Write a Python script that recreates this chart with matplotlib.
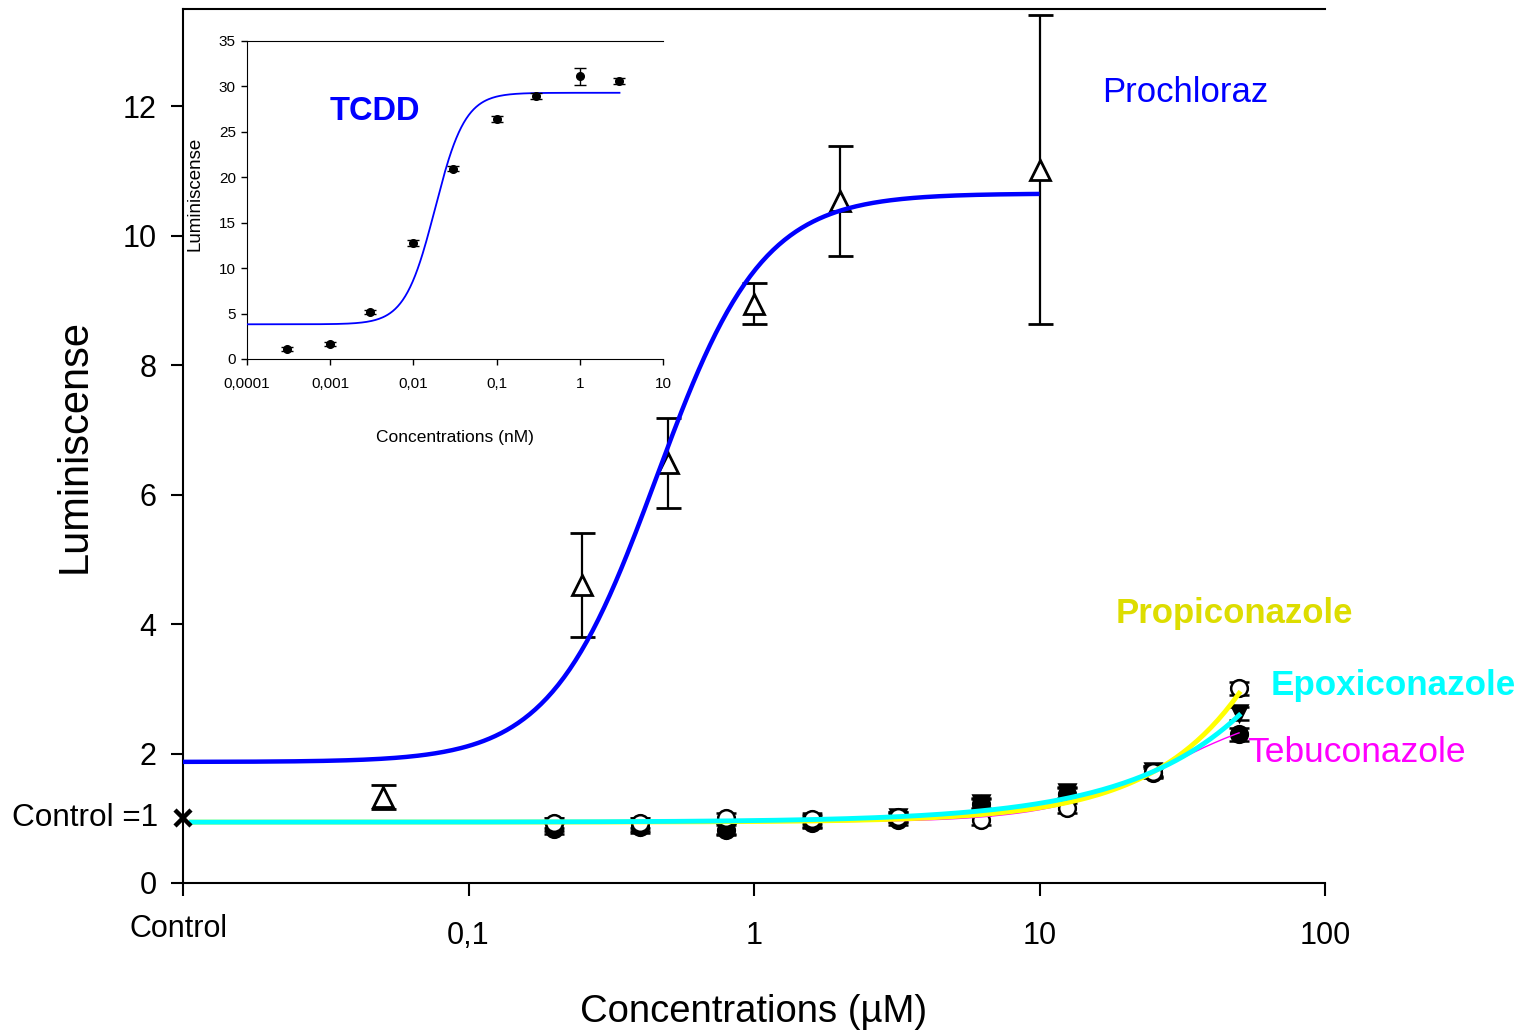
import numpy as np
import matplotlib
matplotlib.use('Agg')
import matplotlib.pyplot as plt
from matplotlib.transforms import ScaledTranslation

plt.rcParams['font.family'] = ['Liberation Sans', 'DejaVu Sans']

# ---------------- data ----------------
control_x = 0.01
control_y = 1.0

prochloraz_conc = [0.05, 0.25, 0.5, 1, 2, 10]
prochloraz_mean = [1.33, 4.60, 6.49, 8.95, 10.53, 11.02]
prochloraz_err = [0.18, 0.80, 0.70, 0.32, 0.85, 2.39]
# fitted Hill curve parameters: bottom, top, EC50, Hill slope, x range
prochloraz_fit = [1.87, 10.65, 0.455, 2.34, 0.01, 10]

azole_conc = [0.2, 0.4, 0.8, 1.6, 3.2, 6.25, 12.5, 25, 50]
propiconazole_mean = [0.93, 0.93, 1.00, 0.99, 1.02, 0.97, 1.16, 1.72, 3.01]
epoxiconazole_mean = [0.88, 0.88, 0.84, 0.95, 1.02, 1.24, 1.40, 1.73, 2.62]
tebuconazole_mean = [0.84, 0.86, 0.82, 0.93, 0.98, 1.22, 1.38, 1.70, 2.30]
azole_err = [0.08, 0.08, 0.08, 0.08, 0.08, 0.08, 0.08, 0.08, 0.10]
# fitted curves: baseline, amplitude at ref conc, ref conc, exponent
propiconazole_fit = [0.94, 1.99, 50, 1.36]
epoxiconazole_fit = [0.94, 1.65, 50, 1.08]
# Hill fit: bottom, top, EC50, slope
tebuconazole_fit = [0.94, 2.796, 29.4, 2.0]

tcdd_conc = [0.0003, 0.001, 0.003, 0.01, 0.03, 0.1, 0.3, 1, 3]
tcdd_mean = [1.1, 1.65, 5.2, 12.8, 20.95, 26.4, 28.95, 31.1, 30.6]
tcdd_err = [0.2, 0.2, 0.2, 0.35, 0.3, 0.3, 0.3, 0.96, 0.35]
tcdd_fit = [3.82, 29.3, 0.0182, 2.4, 1e-4, 3]

main_xticks = [0.01, 0.1, 1, 10, 100]
main_xticklabels = ['Control', '0,1', '1', '10', '100']
main_yticks = [0, 2, 4, 6, 8, 10, 12]
inset_xticks = [1e-4, 1e-3, 1e-2, 1e-1, 1, 10]
inset_xticklabels = ['0,0001', '0,001', '0,01', '0,1', '1', '10']
inset_yticks = [0, 5, 10, 15, 20, 25, 30, 35]


def hill(x, bottom, top, ec50, h):
    return bottom + (top - bottom) / (1 + (ec50 / x) ** h)


def power_rise(x, base, amp, xref, h):
    return base + amp * (x / xref) ** h


W, H = 1526, 1033
fig = plt.figure(figsize=(W / 100, H / 100), dpi=100)
fig.patch.set_facecolor('white')

ax = fig.add_axes([183 / W, 1 - 883 / H, (1325 - 183) / W, (883 - 9) / H])
ax.set_xscale('log')
ax.set_xlim(0.01, 100)
ax.set_ylim(0, 13.5)

# Prochloraz curve + data
b, t, e, h, x0, x1 = prochloraz_fit
xs = np.logspace(np.log10(x0), np.log10(x1), 300)
ax.plot(xs, hill(xs, b, t, e, h), color='#0000FF', lw=3.2, zorder=5,
        solid_capstyle='butt')
ax.errorbar(prochloraz_conc, prochloraz_mean, yerr=prochloraz_err, fmt='^',
            mfc='white', mec='black', ms=14, mew=2, ecolor='black',
            elinewidth=1.6, capsize=9, capthick=1.6, zorder=4)

# azole data
common = dict(yerr=azole_err, ecolor='black', elinewidth=1.5, capsize=7,
              capthick=1.5, zorder=3, ms=12, mew=1.8)
ax.errorbar(azole_conc, tebuconazole_mean, fmt='o', mfc='black', mec='black', **common)
ax.errorbar(azole_conc, epoxiconazole_mean, fmt='v', mfc='black', mec='black', **common)
ax.errorbar(azole_conc, propiconazole_mean, fmt='o', mfc='white', mec='black', **common)

xa = np.logspace(np.log10(0.0107), np.log10(50), 300)
ax.plot(xa, hill(xa, *tebuconazole_fit), color='#FF00FF', lw=1.0, zorder=5.5)
ax.plot(xa, power_rise(xa, *propiconazole_fit), color='#FFFF00', lw=3.5, zorder=6)
ax.plot(xa, power_rise(xa, *epoxiconazole_fit), color='#00FFFF', lw=3.5, zorder=7)

# control marker
ax.plot([control_x], [control_y], marker='x', color='black', ms=11, mew=3.2,
        clip_on=False, zorder=9, ls='none')
ax.text(-0.022, control_y, 'Control =1', transform=ax.get_yaxis_transform(),
        ha='right', va='center', fontsize=22.7)

ax.set_xticks(main_xticks)
ax.set_xticklabels(main_xticklabels)
ax.xaxis.set_minor_locator(matplotlib.ticker.NullLocator())
ax.set_yticks(main_yticks)
ax.tick_params(axis='both', direction='out', length=9, width=1.5, labelsize=22)
ax.tick_params(axis='x', pad=18)
ax.tick_params(axis='y', pad=10)
lab0 = ax.get_xticklabels()[0]
lab0.set_transform(lab0.get_transform() + ScaledTranslation(-3 / 72, 5 / 72, fig.dpi_scale_trans))

for s in ['left', 'bottom', 'top']:
    ax.spines[s].set_linewidth(1.5)
ax.spines['right'].set_visible(False)

ax.set_ylabel('Luminiscense', fontsize=30, labelpad=20)
ax.set_xlabel('Concentrations (\u00b5M)', fontsize=27.5, labelpad=31)

# labels
def ftext(x, y, s, **kw):
    fig.text(x / W, 1 - y / H, s, ha='left', va='center', **kw)

ftext(1102, 92, 'Prochloraz', fontsize=25, color='#0000FF')
ftext(1116, 613, 'Propiconazole', fontsize=25, color='#DDDD00', fontweight='bold')
ftext(1271, 686, 'Epoxiconazole', fontsize=25.2, color='#00FFFF', fontweight='bold')
ftext(1247, 753, 'Tebuconazole', fontsize=25.5, color='#FF00FF')

# ---------------- inset ----------------
ax2 = fig.add_axes([247 / W, 1 - 359 / H, (663 - 247) / W, (359 - 41) / H])
ax2.set_xscale('log')
ax2.set_xlim(1e-4, 10)
ax2.set_ylim(0, 35)
b, t, e, h, x0, x1 = tcdd_fit
xs = np.logspace(np.log10(x0), np.log10(x1), 300)
ax2.plot(xs, hill(xs, b, t, e, h), color='#0000FF', lw=1.3, zorder=3)
ax2.errorbar(tcdd_conc, tcdd_mean, yerr=tcdd_err, fmt='o', mfc='black', mec='black',
             ms=5.5, ecolor='black', elinewidth=1, capsize=4, capthick=1, zorder=4)
ax2.set_xticks(inset_xticks)
ax2.set_xticklabels(inset_xticklabels)
ax2.xaxis.set_minor_locator(matplotlib.ticker.NullLocator())
ax2.set_yticks(inset_yticks)
ax2.tick_params(axis='both', direction='out', length=4, width=1, labelsize=11, pad=4)
ax2.tick_params(axis='x', pad=9)
ax2.spines['right'].set_visible(False)
ax2.set_ylabel('Luminiscense', fontsize=13.5)
ax2.yaxis.set_label_coords(-0.105, 0.52)
ax2.set_xlabel('Concentrations (nM)', fontsize=12.5, labelpad=28)
ftext(330, 112, 'TCDD', fontsize=23.5, color='#0000FF', fontweight='bold')

fig.savefig('out.png', dpi=100)
